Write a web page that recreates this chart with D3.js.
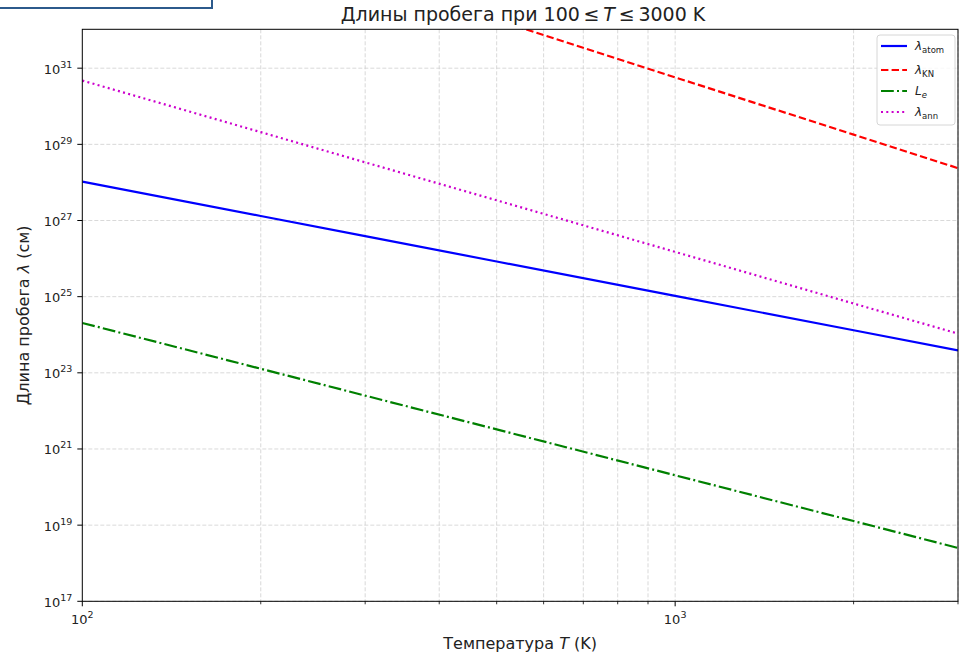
<!DOCTYPE html>
<html><head><meta charset="utf-8">
<script src="https://cdn.jsdelivr.net/npm/d3@7"></script>
<style>
body{margin:0;background:#fff;}
text{font-family:"DejaVu Sans",sans-serif;fill:#222;}
</style></head>
<body>
<svg id="c" width="961" height="654"></svg>
<script>
const temps = [100, 200, 300, 500, 1000, 2000, 3000];
const lambdaAtom = [1.05e28, 1.31e27, 3.88e26, 8.4e25, 1.05e25, 1.31e24, 3.88e23];
const lambdaKN   = [5.75e35, 1.8e34, 2.37e33, 1.84e32, 5.75e30, 1.8e29, 2.37e28];
const Le         = [2.04e24, 1.28e23, 2.52e22, 3.27e21, 2.04e20, 1.28e19, 2.52e18];
const lambdaAnn  = [4.73e30, 2.09e29, 3.37e28, 3.39e27, 1.5e26, 6.6e24, 1.07e24];
const yTickExps = [17, 19, 21, 23, 25, 27, 29, 31];
const xTickExps = [2, 3];
const xMinor = [200,300,400,500,600,700,800,900,2000,3000];

const series = [
  {name:"atom", vals:lambdaAtom, color:"#0000ff", dash:null},
  {name:"KN", vals:lambdaKN, color:"#ff0000", dash:"7.4,3.2"},
  {name:"Le", vals:Le, color:"#008000", dash:"12.8,3.2,2,3.2"},
  {name:"ann", vals:lambdaAnn, color:"#cc00cc", dash:"2,3.3"}
];

const svg = d3.select("#c");
const L=82.3, R=958, T=29.3, B=601.3;
const x = d3.scaleLog().domain([100,3000]).range([L,R]);
const y = d3.scaleLog().domain([1e17,1.05e32]).range([B,T]);

// artifact box top-left
svg.append("rect").attr("x",-2).attr("y",-2).attr("width",214).attr("height",10)
  .attr("fill","#fff").attr("stroke","#2c5a8c").attr("stroke-width",2);

svg.append("defs").append("clipPath").attr("id","clip")
  .append("rect").attr("x",L).attr("y",T).attr("width",R-L).attr("height",B-T);

// grid
const g = svg.append("g");
xMinor.concat([1000]).forEach(v=>{
  g.append("line").attr("x1",x(v)).attr("x2",x(v)).attr("y1",T).attr("y2",B)
   .attr("stroke","#cfcfcf").attr("stroke-width",0.8).attr("stroke-dasharray","4,2");
});
yTickExps.forEach(e=>{
  g.append("line").attr("x1",L).attr("x2",R).attr("y1",y(Math.pow(10,e))).attr("y2",y(Math.pow(10,e)))
   .attr("stroke","#cfcfcf").attr("stroke-width",0.8).attr("stroke-dasharray","4,2");
});

// lines
const line = d3.line().x((d,i)=>x(temps[i])).y(d=>y(d));
const lg = svg.append("g").attr("clip-path","url(#clip)");
series.forEach(s=>{
  lg.append("path").datum(s.vals).attr("d",line).attr("fill","none")
    .attr("stroke",s.color).attr("stroke-width",2.2)
    .attr("stroke-dasharray",s.dash);
});

// frame
svg.append("rect").attr("x",L).attr("y",T).attr("width",R-L).attr("height",B-T)
  .attr("fill","none").attr("stroke","#000").attr("stroke-width",1);

// y ticks
yTickExps.forEach(e=>{
  const yy = y(Math.pow(10,e));
  svg.append("line").attr("x1",L-5).attr("x2",L).attr("y1",yy).attr("y2",yy).attr("stroke","#000");
  const t = svg.append("text").attr("x",L-10).attr("y",yy+5.5).attr("text-anchor","end").attr("font-size",13);
  t.append("tspan").text("10");
  t.append("tspan").attr("dy",-6).attr("font-size",9.5).text(e);
});
// x ticks
xTickExps.forEach(e=>{
  const xx = x(Math.pow(10,e));
  svg.append("line").attr("x1",xx).attr("x2",xx).attr("y1",B).attr("y2",B+5).attr("stroke","#000");
  const t = svg.append("text").attr("x",xx).attr("y",B+23).attr("text-anchor","middle").attr("font-size",13);
  t.append("tspan").text("10");
  t.append("tspan").attr("dy",-6).attr("font-size",9.5).text(e);
});
xMinor.forEach(v=>{
  svg.append("line").attr("x1",x(v)).attr("x2",x(v)).attr("y1",B).attr("y2",B+3).attr("stroke","#000").attr("stroke-width",0.8);
});

// title
const tt = svg.append("text").attr("x",523).attr("y",21).attr("text-anchor","middle").attr("font-size",19);
tt.append("tspan").text("Длины пробега при 100\u2009≤\u2009");
tt.append("tspan").attr("font-style","italic").text("T");
tt.append("tspan").text("\u2009≤\u20093000 K");

// x label
const xl = svg.append("text").attr("x",(L+R)/2).attr("y",649).attr("text-anchor","middle").attr("font-size",16);
xl.append("tspan").text("Температура ");
xl.append("tspan").attr("font-style","italic").text("T");
xl.append("tspan").text(" (K)");

// y label
const yl = svg.append("text").attr("transform",`translate(29,${(T+B)/2}) rotate(-90)`).attr("text-anchor","middle").attr("font-size",16);
yl.append("tspan").text("Длина пробега ");
yl.append("tspan").attr("font-style","italic").text("λ");
yl.append("tspan").text(" (см)");

// legend
const leg = svg.append("g");
leg.append("rect").attr("x",877).attr("y",35).attr("width",78).attr("height",90).attr("rx",3)
  .attr("fill","#fff").attr("fill-opacity",0.8).attr("stroke","#d6d6d6");
const labels = [["λ","atom",false],["λ","KN",false],["L","e",true],["λ","ann",false]];
const ly = [46,70,91,112];
series.forEach((s,i)=>{
  leg.append("line").attr("x1",881).attr("x2",907).attr("y1",ly[i]).attr("y2",ly[i])
    .attr("stroke",s.color).attr("stroke-width",2.2).attr("stroke-dasharray",s.dash);
  const t = leg.append("text").attr("x",915).attr("y",ly[i]+4).attr("font-size",12);
  t.append("tspan").attr("font-style","italic").text(labels[i][0]);
  t.append("tspan").attr("dy",2.5).attr("font-size",8.5).attr("font-style",labels[i][2]?"italic":"normal").text(labels[i][1]);
});
</script>
</body></html>
